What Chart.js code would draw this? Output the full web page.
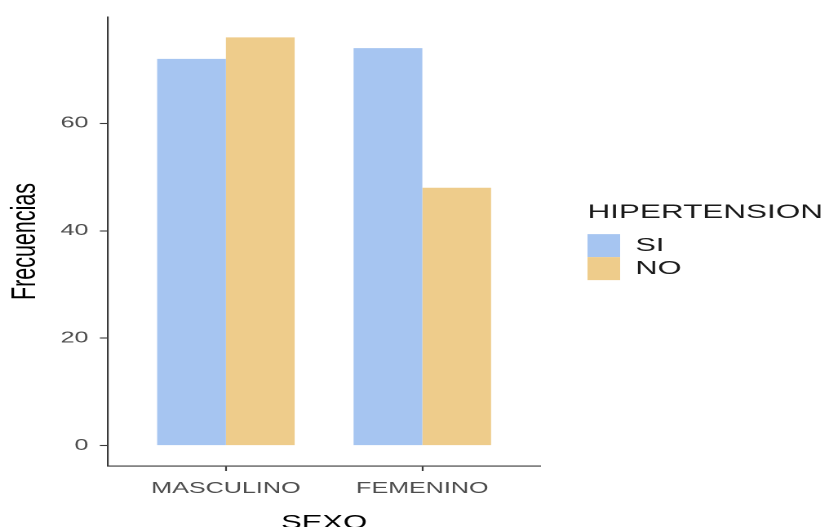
<!DOCTYPE html>
<html>
<head>
<meta charset="utf-8">
<script src="https://cdn.jsdelivr.net/npm/chart.js@4/dist/chart.umd.min.js"></script>
<style>
  html, body { margin: 0; padding: 0; background: #ffffff; overflow: hidden; }
</style>
</head>
<body>
<canvas id="c" width="508" height="527" style="display:block;width:829px;height:527px;"></canvas>
<script>
const categories = ['MASCULINO', 'FEMENINO'];
const seriesNames = ['SI', 'NO'];
const siValues = [72, 74];
const noValues = [76, 48];
const yTicks = [0, 20, 40, 60];
const xTitle = 'SEXO';
const yTitle = 'Frecuencias';
const legendTitle = 'HIPERTENSION';

const FONT = '"Liberation Sans", Arial, sans-serif';
const AXIS = '#3a3a3a';

const toPoints = vals => vals.map((v, i) => ({ x: i + 1, y: v }));

// keep the legend box wide enough for its title (legend drawing is clipped to its box)
const legendWidthPlugin = {
  id: 'legendWidth',
  beforeLayout(chart) {
    const lg = chart.legend;
    if (lg && !lg._fixedWidth) {
      const origFit = lg.fit.bind(lg);
      lg.fit = function () { origFit(); this.width = 148; };
      lg._fixedWidth = true;
    }
  }
};

new Chart(document.getElementById('c'), {
  type: 'bar',
  plugins: [legendWidthPlugin],
  data: {
    datasets: [
      { label: seriesNames[0], data: toPoints(siValues), backgroundColor: '#a6c5f1', borderWidth: 0 },
      { label: seriesNames[1], data: toPoints(noValues), backgroundColor: '#eecc8b', borderWidth: 0 }
    ]
  },
  options: {
    responsive: false,
    devicePixelRatio: 2,
    animation: false,
    categoryPercentage: 0.7,
    barPercentage: 1.0,
    layout: { padding: { left: 0, top: 17, right: 0, bottom: 0 } },
    plugins: {
      tooltip: { enabled: false },
      legend: {
        position: 'right',
        fullSize: false,
        align: 'center',
        labels: {
          boxWidth: 20,
          boxHeight: 23,
          padding: 0,
          color: '#1a1a1a',
          font: { family: FONT, size: 18.8 }
        },
        title: {
          display: true,
          text: legendTitle,
          position: 'start',
          color: '#1a1a1a',
          padding: { top: 0, bottom: 8 },
          font: { family: FONT, size: 19.3 }
        }
      }
    },
    scales: {
      x: {
        type: 'linear',
        position: 'bottom',
        min: 0.4,
        max: 2.6,
        offset: false,
        afterBuildTicks: s => { s.ticks = categories.map((c, i) => ({ value: i + 1 })); },
        afterFit: s => { s.height = 61; },
        ticks: {
          autoSkip: false,
          maxRotation: 0,
          padding: 8.5,
          color: '#4d4d4d',
          font: { family: FONT, size: 15.4 },
          callback: v => categories[v - 1]
        },
        grid: { display: true, offset: false, drawOnChartArea: false, drawTicks: true, tickLength: 5, tickColor: AXIS, tickWidth: 1.1 },
        border: { display: true, color: AXIS, width: 1.1 },
        title: {
          display: true,
          text: xTitle,
          color: '#000000',
          padding: { top: 0, bottom: -7.5 },
          font: { family: FONT, size: 19 }
        }
      },
      y: {
        type: 'linear',
        position: 'left',
        min: -3.8,
        max: 79.8,
        afterBuildTicks: s => { s.ticks = yTicks.map(v => ({ value: v })); },
        afterFit: s => { s.width = 66.2; },
        ticks: {
          padding: 7,
          color: '#4d4d4d',
          font: { family: FONT, size: 15.4 }
        },
        grid: { display: true, drawOnChartArea: false, drawTicks: true, tickLength: 5, tickColor: AXIS, tickWidth: 1.1 },
        border: { display: true, color: AXIS, width: 1.1 },
        title: {
          display: true,
          text: yTitle,
          color: '#000000',
          padding: { top: 2.7, bottom: 0 },
          font: { family: FONT, size: 21.5 }
        }
      },
      gap: {
        type: 'linear',
        position: 'right',
        display: true,
        afterFit: s => { s.width = 29; },
        ticks: { display: false },
        grid: { display: false },
        border: { display: false }
      }
    }
  }
});
</script>
</body>
</html>
